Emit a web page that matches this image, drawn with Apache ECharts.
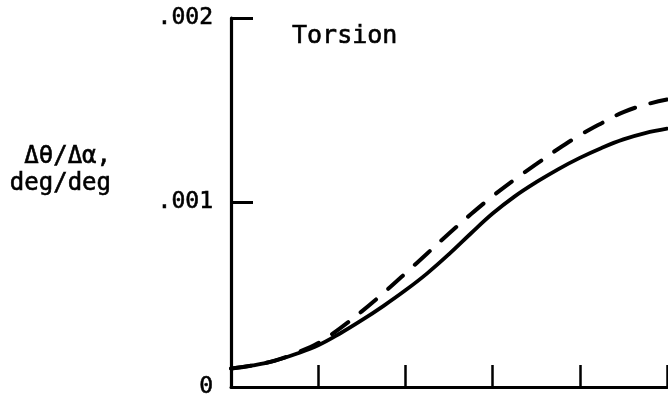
<!DOCTYPE html>
<html>
<head>
<meta charset="utf-8">
<script src="https://cdn.jsdelivr.net/npm/echarts@6/dist/echarts.min.js"></script>
<style>
html,body{margin:0;padding:0;background:#fff;}
#chart{width:668px;height:405px;}
</style>
</head>
<body>
<div id="chart"></div>
<script>
// Data
const xValues = [0, 0.25, 0.5, 0.75, 1.0, 1.25, 1.5, 1.75, 2.0, 2.25, 2.5, 2.75, 3.0, 3.25, 3.5, 3.75, 4.0, 4.25, 4.5, 4.75, 5.0];
const solidValues = [0.000100, 0.000117, 0.000142, 0.000180, 0.000226, 0.000290, 0.000362, 0.000440, 0.000524, 0.000616, 0.000720, 0.000832, 0.000940, 0.001032, 0.001110, 0.001180, 0.001242, 0.001296, 0.001342, 0.001376, 0.001400];
const dashedValues = [0.000100, 0.000117, 0.000143, 0.000185, 0.000238, 0.000318, 0.000410, 0.000510, 0.000616, 0.000724, 0.000832, 0.000936, 0.001034, 0.001124, 0.001208, 0.001290, 0.001365, 0.001430, 0.001490, 0.001530, 0.001558];
const yTickValues = [0, 0.001, 0.002];
const yTickLabels = ['0', '.001', '.002'];
const xTickValues = [0, 1, 2, 3, 4, 5];
const titleText = 'Torsion';
const yAxisTitle = ['\u0394\u03b8/\u0394\u03b1,', 'deg/deg'];

const FONT = '"DejaVu Sans Mono", monospace';
const chart = echarts.init(document.getElementById('chart'), null, {renderer: 'canvas'});

function pairs(xs, ys) { return xs.map((x, i) => [x, ys[i]]); }

const textStyleBase = {fill: '#000', stroke: '#000', lineWidth: 0.6};

chart.setOption({
  animation: false,
  backgroundColor: '#fff',
  grid: {left: 231, right: 1, top: 18, bottom: 18, containLabel: false},
  xAxis: {
    type: 'value', min: 0, max: 5, interval: 1,
    axisLine: {show: true, onZero: false, lineStyle: {color: '#000', width: 3}},
    axisTick: {show: true, inside: true, length: 22, lineStyle: {color: '#000', width: 2.5},
      customValues: xTickValues.slice(1)},
    axisLabel: {show: false},
    splitLine: {show: false}
  },
  yAxis: {
    type: 'value', min: 0, max: 0.002, interval: 0.001,
    axisLine: {show: true, lineStyle: {color: '#000', width: 3.2}},
    axisTick: {show: true, inside: true, length: 22, lineStyle: {color: '#000', width: 3},
      customValues: yTickValues.slice(1)},
    axisLabel: {
      show: true, margin: 18, color: '#000',
      fontFamily: FONT, fontSize: 23,
      textBorderColor: '#000', textBorderWidth: 0.6,
      customValues: yTickValues,
      formatter: v => yTickLabels[yTickValues.findIndex(t => Math.abs(t - v) < 1e-9)]
    },
    splitLine: {show: false}
  },
  graphic: [
    {type: 'text', x: 292, y: 36, style: Object.assign({text: titleText, font: '25px ' + FONT, textAlign: 'left', textVerticalAlign: 'middle'}, textStyleBase)},
    {type: 'text', x: 111, y: 157, style: Object.assign({text: yAxisTitle[0], font: '24px ' + FONT, textAlign: 'right', textVerticalAlign: 'middle'}, textStyleBase)},
    {type: 'text', x: 111, y: 184, style: Object.assign({text: yAxisTitle[1], font: '24px ' + FONT, textAlign: 'right', textVerticalAlign: 'middle'}, textStyleBase)}
  ],
  series: [
    {type: 'line', data: pairs(xValues, solidValues), smooth: 0.4, symbol: 'none',
      lineStyle: {color: '#000', width: 3.8, cap: 'round'}},
    {type: 'line', data: pairs(xValues, dashedValues), smooth: 0.4, symbol: 'none',
      lineStyle: {color: '#000', width: 4, type: [20, 16], cap: 'round'}}
  ]
});
</script>
</body>
</html>
